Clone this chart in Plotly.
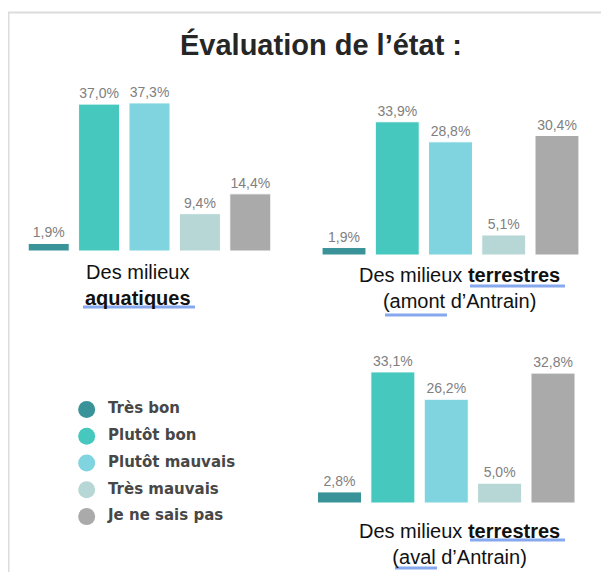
import plotly.graph_objects as go

# --- data -------------------------------------------------------------------
CATEGORIES = ["Très bon", "Plutôt bon", "Plutôt mauvais", "Très mauvais", "Je ne sais pas"]
COLORS = ["#3A9399", "#47C8BE", "#7FD4DF", "#B6D7D5", "#AAAAAA"]

AQUATIQUES = [1.9, 37.0, 37.3, 9.4, 14.4]
TERRESTRES_AMONT = [1.9, 33.9, 28.8, 5.1, 30.4]
TERRESTRES_AVAL = [2.8, 33.1, 26.2, 5.0, 32.8]

TITLE = "Évaluation de l’état :"
LABEL_AQUA = "Des milieux<br><b>aquatiques</b>"
LABEL_AMONT = "Des milieux <b>terrestres</b><br>(amont d’Antrain)"
LABEL_AVAL = "Des milieux <b>terrestres</b><br>(aval d’Antrain)"

# the page body has an 8px margin, so the figure is drawn 8px in from the corner
OX, OY = 8, 8
W, H = 609 - OX, 572 - OY
FONT = "Liberation Sans, Arial, sans-serif"


def px_x(x):
    return (x - OX) / W


def px_y(y):
    return (H - (y - OY)) / H


def fmt(v):
    return f"{v:.1f}".replace(".", ",") + "%"


fig = go.Figure()

panels = [
    # values, axis suffix, (left, right) px, base px, px per %, bar width
    (AQUATIQUES, "", (23.5, 275.5), 251, 3.97, 0.814),
    (TERRESTRES_AMONT, "2", (317.4, 583.6), 255, 3.93, 0.825),
    (TERRESTRES_AVAL, "3", (312.8, 579.7), 503, 3.96, 0.825),
]

axes = {}
for vals, ax, (xl, xr), base, scale, bw in panels:
    fig.add_trace(go.Bar(
        x=CATEGORIES, y=vals, xaxis="x" + ax, yaxis="y" + ax, width=bw,
        marker=dict(color=COLORS, line=dict(color="white", width=1)),
        text=[fmt(v) for v in vals], textposition="outside",
        textfont=dict(family=FONT, size=14, color="#808080"),
        cliponaxis=False, showlegend=False, hoverinfo="skip",
    ))
    top = 40
    axes["xaxis" + ax] = dict(
        domain=[px_x(xl), px_x(xr)], anchor="y" + ax,
        visible=False, range=[-0.5, 4.5], fixedrange=True,
    )
    axes["yaxis" + ax] = dict(
        domain=[px_y(base), px_y(base - top * scale)], anchor="x" + ax,
        visible=False, range=[0, top], fixedrange=True,
    )

# legend drawn as a small scatter panel: dots, then labels to their right
fig.add_trace(go.Scatter(
    x=[0] * len(CATEGORIES), y=CATEGORIES, xaxis="x4", yaxis="y4",
    mode="markers", marker=dict(color=COLORS, size=17, line=dict(width=0)),
    cliponaxis=False, showlegend=False, hoverinfo="skip",
))
fig.add_trace(go.Scatter(
    x=[0.1] * len(CATEGORIES), y=CATEGORIES, xaxis="x4", yaxis="y4",
    mode="text", text=CATEGORIES, textposition="middle right",
    textfont=dict(family="DejaVu Sans, sans-serif", size=15, color="#474747", weight="bold"),
    cliponaxis=False, showlegend=False, hoverinfo="skip",
))
axes["xaxis4"] = dict(domain=[px_x(76), px_x(300)], anchor="y4", visible=False,
                      range=[-0.05, 1], fixedrange=True)
axes["yaxis4"] = dict(domain=[px_y(530), px_y(396.2)], anchor="x4", visible=False,
                      range=[4.5, -0.5], type="category", fixedrange=True)

fig.update_layout(
    width=W, height=H,
    margin=dict(l=0, r=0, t=0, b=0),
    paper_bgcolor="white", plot_bgcolor="white",
    font=dict(family=FONT, color="#222222"),
    **axes,
)

# frame of the slide box
fig.add_shape(type="rect", xref="paper", yref="paper",
              x0=px_x(8.5), x1=px_x(640), y0=px_y(600), y1=px_y(12.5),
              line=dict(color="#DCDCDC", width=2), layer="below")

fig.add_annotation(text=f"<b>{TITLE}</b>", xref="paper", yref="paper",
                   x=px_x(321), y=px_y(45), xanchor="center", yanchor="middle",
                   showarrow=False, font=dict(family=FONT, size=29, color="#262626"))

for label, cx, cy in [(LABEL_AQUA, 138, 285), (LABEL_AMONT, 459, 288), (LABEL_AVAL, 459, 544)]:
    fig.add_annotation(text=label, xref="paper", yref="paper", x=px_x(cx), y=px_y(cy),
                       xanchor="center", yanchor="middle",
                       showarrow=False, align="center",
                       font=dict(family=FONT, size=20, color="#111111"))

# spell-check style underlines
for x0, x1, y in [(83, 195, 307), (470, 565, 286), (385, 447, 315), (470, 565, 540), (395, 437, 568)]:
    fig.add_shape(type="line", xref="paper", yref="paper",
                  x0=px_x(x0), x1=px_x(x1), y0=px_y(y), y1=px_y(y),
                  line=dict(color="#86A8EE", width=3))

fig.write_html("out.html")
